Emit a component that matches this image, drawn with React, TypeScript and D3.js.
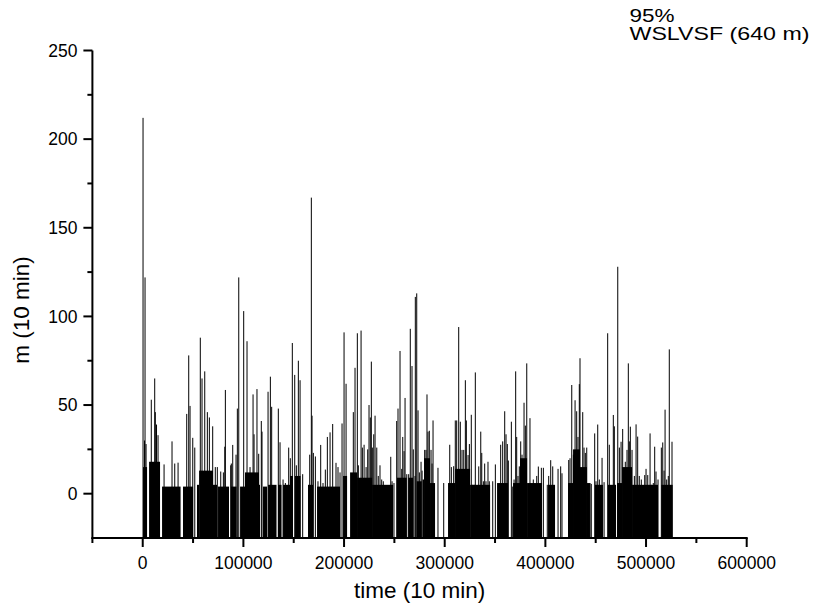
import React from "react";
import * as d3 from "d3";

// Spike (needle) times in thousands of 10-min steps, and their heights
const spikeTimeK = [
  0.3, 2.3, 1.8, 3.3, 8.5, 11.9, 12.5, 13.7, 15.2, 21.2,
  29.1, 31.8, 35.1, 43.7, 45.7, 47.0, 49.7, 51.7, 57.2, 58.9,
  61.6, 64.2, 66.2, 69.5, 72.1, 74.1, 77.5, 80.1, 81.5, 82.1,
  88.0, 87.4, 89.4, 92.7, 94.0, 95.4, 100.3, 103.6, 106.6, 109.6,
  110.6, 113.5, 115.2, 117.8, 118.5, 124.5, 126.8, 128.1, 134.7, 136.4,
  139.4, 141.7, 145.0, 146.6, 148.6, 151.0, 152.6, 154.6, 156.3, 158.9,
  165.9, 167.5, 168.2, 169.5, 171.5, 174.1, 176.8, 179.1, 181.4, 183.4,
  186.1, 188.7, 192.0, 194.0, 196.0, 198.0, 200.0, 202.0, 209.2, 210.9,
  213.2, 214.2, 216.9, 218.2, 219.9, 221.9, 223.5, 224.8, 226.1, 227.1,
  228.1, 229.5, 230.8, 232.5, 234.0, 235.7, 237.4, 239.0, 246.4, 247.7,
  249.6, 252.3, 253.6, 255.6, 257.3, 258.3, 259.6, 260.6, 262.3, 264.2,
  265.8, 267.5, 268.8, 270.5, 270.8, 272.2, 273.5, 274.8, 276.5, 277.5,
  280.1, 281.4, 282.4, 283.4, 284.7, 286.4, 287.4, 288.4, 293.3, 299.0,
  305.0, 306.6, 308.9, 310.5, 311.9, 313.9, 315.5, 317.2, 318.9, 320.5,
  321.5, 323.2, 324.5, 326.4, 327.8, 329.4, 330.4, 333.8, 335.8, 336.8,
  338.4, 339.7, 341.0, 343.0, 344.3, 347.7, 350.3, 355.6, 357.6, 359.6,
  360.9, 362.2, 363.2, 366.2, 367.6, 368.9, 370.5, 371.5, 372.8, 374.1,
  375.5, 376.8, 378.8, 380.1, 381.5, 384.7, 386.0, 388.0, 391.4, 393.0,
  396.0, 398.0, 401.9, 403.3, 405.3, 407.3, 412.6, 415.2, 416.5, 423.2,
  424.5, 426.2, 427.8, 429.5, 431.1, 432.4, 433.7, 434.4, 437.1, 438.4,
  439.7, 441.1, 442.4, 444.4, 445.6, 449.0, 450.3, 452.0, 453.6, 456.3,
  458.3, 461.9, 463.5, 467.5, 468.5, 471.9, 473.5, 475.2, 476.8, 478.4,
  479.4, 481.1, 482.4, 483.4, 484.4, 486.1, 488.4, 490.1, 491.7, 493.3,
  495.3, 498.7, 500.0, 501.7, 504.0, 505.2, 507.2, 508.6, 509.9, 511.9,
  515.2, 516.6, 517.9, 518.9, 520.5, 522.1, 523.1, 525.8,
];
const spikeValue = [
  212, 122, 30, 28, 53, 65, 46, 39, 33, 16.5,
  29.5, 17, 17.5, 45, 78, 49.5, 31.5, 26, 88, 65,
  69, 46, 43, 38, 15, 15, 12.5, 12, 26.5, 58.5,
  17, 16, 27.5, 22, 48, 122, 103, 86, 15, 56,
  33.5, 59, 22.5, 41, 35, 57.5, 66, 49, 48, 29,
  8, 6, 26, 20, 85, 67, 16, 75, 64, 11,
  22, 167, 44, 23, 21, 7, 27.5, 6, 13.6, 32,
  34.6, 39.3, 17.4, 15, 12, 39.6, 91, 62, 46, 71,
  90.5, 16, 92, 26, 27.6, 15, 25, 50, 43, 74.5,
  26, 33.5, 44, 26, 10, 16, 8, 7, 20.8, 7,
  6, 41, 48, 80.5, 14, 32, 24, 54, 11, 11,
  93, 72, 25, 10, 111, 113, 47, 12, 18, 13,
  24.7, 24.7, 56, 35, 35.5, 24.7, 17, 41.3, 14.6, 6,
  27.6, 15, 15.5, 41.3, 41.3, 94, 40.6, 24.7, 24.7, 64,
  41.3, 21.8, 28, 44.5, 5, 5, 68.4, 15.4, 35, 23,
  7, 17, 7, 18, 7, 7, 16.5, 27.6, 29.5, 46.5,
  33.5, 28, 18.7, 40.6, 4, 8, 69, 32, 10, 15.4,
  29.5, 22, 51.3, 38.4, 73.5, 42.6, 5.5, 8, 10, 15.3,
  14.6, 14.6, 5, 10, 18.9, 15.4, 14, 15.4, 11.5, 19,
  20, 61.3, 22, 52.7, 46.5, 32, 61.8, 76.4, 46, 26,
  23, 26, 5, 6, 5.5, 34, 7, 39, 8, 20.2,
  6.5, 90.5, 27.6, 44.4, 38, 128, 26, 29.3, 36.5, 9,
  18, 24.7, 73.5, 29.5, 37.8, 24.7, 10, 39.1, 32.2, 10,
  8, 10.5, 14, 10.5, 34, 5, 6, 26.5, 12.5, 8,
  26, 28.9, 13, 47.4, 8, 10, 81.4, 29.3,
];

// Dense "floor" blocks of needles: start / end time (thousands) and their common height
const floorStartK = [0.3, 6.3, 19.2, 40.0, 53.9, 56.0, 69.8, 74.8, 87.7, 96.7, 101.6, 115.5, 119.5, 124.5, 134.4, 139.4, 146.3, 151.3, 164.2, 173.2, 199.0, 206.0, 213.0, 227.9, 252.6, 263.8, 272.2, 278.0, 279.5, 285.4, 303.3, 310.3, 325.2, 352.0, 367.9, 374.8, 381.8, 402.7, 422.5, 427.5, 434.4, 441.3, 449.3, 462.2, 471.2, 476.2, 486.1, 515.2];
const floorEndK = [4.3, 17.2, 37.6, 50.0, 56.0, 69.8, 73.8, 85.7, 93.2, 101.6, 115.5, 116.5, 123.5, 132.9, 137.9, 146.3, 149.3, 156.8, 169.2, 196.0, 203.0, 213.0, 227.9, 248.7, 262.3, 268.5, 277.2, 279.5, 285.4, 290.4, 310.3, 325.2, 345.1, 362.9, 374.8, 381.8, 396.7, 409.6, 427.5, 434.4, 441.3, 444.3, 457.2, 470.2, 476.2, 486.1, 511.9, 526.5];
const floorLevel = [15, 18, 4, 4, 5, 13, 5, 4, 4, 4, 12, 5, 4, 5, 5, 5, 10, 10, 5, 4, 10, 12, 9, 5, 9, 9, 7, 8, 20, 6, 6, 14, 5, 6, 6, 20, 6, 5, 6, 25, 15, 6, 5, 5, 6, 15, 5, 5];

const xMajorTicks = [0, 100000, 200000, 300000, 400000, 500000, 600000];
const xMinorTicks = [-50000, 50000, 150000, 250000, 350000, 450000, 550000];
const yMajorTicks = [0, 50, 100, 150, 200, 250];
const yMinorTicks = [25, 75, 125, 175, 225];

const xTitle = "time (10 min)";
const yTitle = "m (10 min)";
const noteLine1 = "95%";
const noteLine2 = "WSLVSF (640 m)";

const FONT = "'Liberation Sans', Arial, Helvetica, sans-serif";

export default function App() {
  const x = d3.scaleLinear().domain([-50000, 600000]).range([92.4, 746.7]);
  const y = d3.scaleLinear().domain([-25, 250]).range([538, 50.5]);
  const [x0, x1] = x.range();
  const [yb, yt] = y.range();

  return (
    <svg
      width={813}
      height={615}
      style={{ position: "absolute", left: 0, top: 0, background: "#fff" }}
      fontFamily={FONT}
    >
      <rect x={0} y={0} width={813} height={615} fill="#fff" />
      {/* floor blocks */}
      <g fill="#000">
        {floorStartK.map((s, i) => (
          <rect
            key={"f" + i}
            x={x(s * 1000)}
            width={x(floorEndK[i] * 1000) - x(s * 1000)}
            y={y(floorLevel[i])}
            height={y(-25) - y(floorLevel[i])}
          />
        ))}
      </g>
      {/* needles */}
      <g stroke="#000" strokeWidth={1}>
        {spikeTimeK.map((t, i) => (
          <line
            key={"s" + i}
            x1={x(t * 1000)}
            x2={x(t * 1000)}
            y1={y(-25)}
            y2={y(spikeValue[i])}
          />
        ))}
      </g>
      {/* axes */}
      <g stroke="#000" strokeWidth={2} fill="none">
        <line x1={x0} x2={x0} y1={yt} y2={yb + 1} />
        <line x1={x0 - 1} x2={x1 + 1} y1={yb} y2={yb} />
        {yMajorTicks.map((v) => (
          <line key={"ym" + v} x1={x0 - 9} x2={x0} y1={y(v)} y2={y(v)} />
        ))}
        {yMinorTicks.map((v) => (
          <line key={"yn" + v} x1={x0 - 5} x2={x0} y1={y(v)} y2={y(v)} />
        ))}
        {xMajorTicks.map((v) => (
          <line key={"xm" + v} x1={x(v)} x2={x(v)} y1={yb} y2={yb + 9} />
        ))}
        {xMinorTicks.map((v) => (
          <line key={"xn" + v} x1={x(v)} x2={x(v)} y1={yb} y2={yb + 5} />
        ))}
      </g>
      <g fontSize={17.5} fill="#000">
        {yMajorTicks.map((v) => (
          <text key={"yl" + v} x={x0 - 15} y={y(v) + 6.2} textAnchor="end">
            {v}
          </text>
        ))}
        {xMajorTicks.map((v) => (
          <text key={"xl" + v} x={x(v)} y={568.5} textAnchor="middle">
            {v}
          </text>
        ))}
      </g>
      <text x={(x0 + x1) / 2} y={598} fontSize={22.5} textAnchor="middle">
        {xTitle}
      </text>
      <text
        transform="translate(28.5,310) rotate(-90)"
        fontSize={22.5}
        textAnchor="middle"
      >
        {yTitle}
      </text>
      <text x={629.5} y={21.7} fontSize={19} textLength={45} lengthAdjust="spacingAndGlyphs">
        {noteLine1}
      </text>
      <text x={629.5} y={40} fontSize={19} textLength={180} lengthAdjust="spacingAndGlyphs">
        {noteLine2}
      </text>
    </svg>
  );
}
